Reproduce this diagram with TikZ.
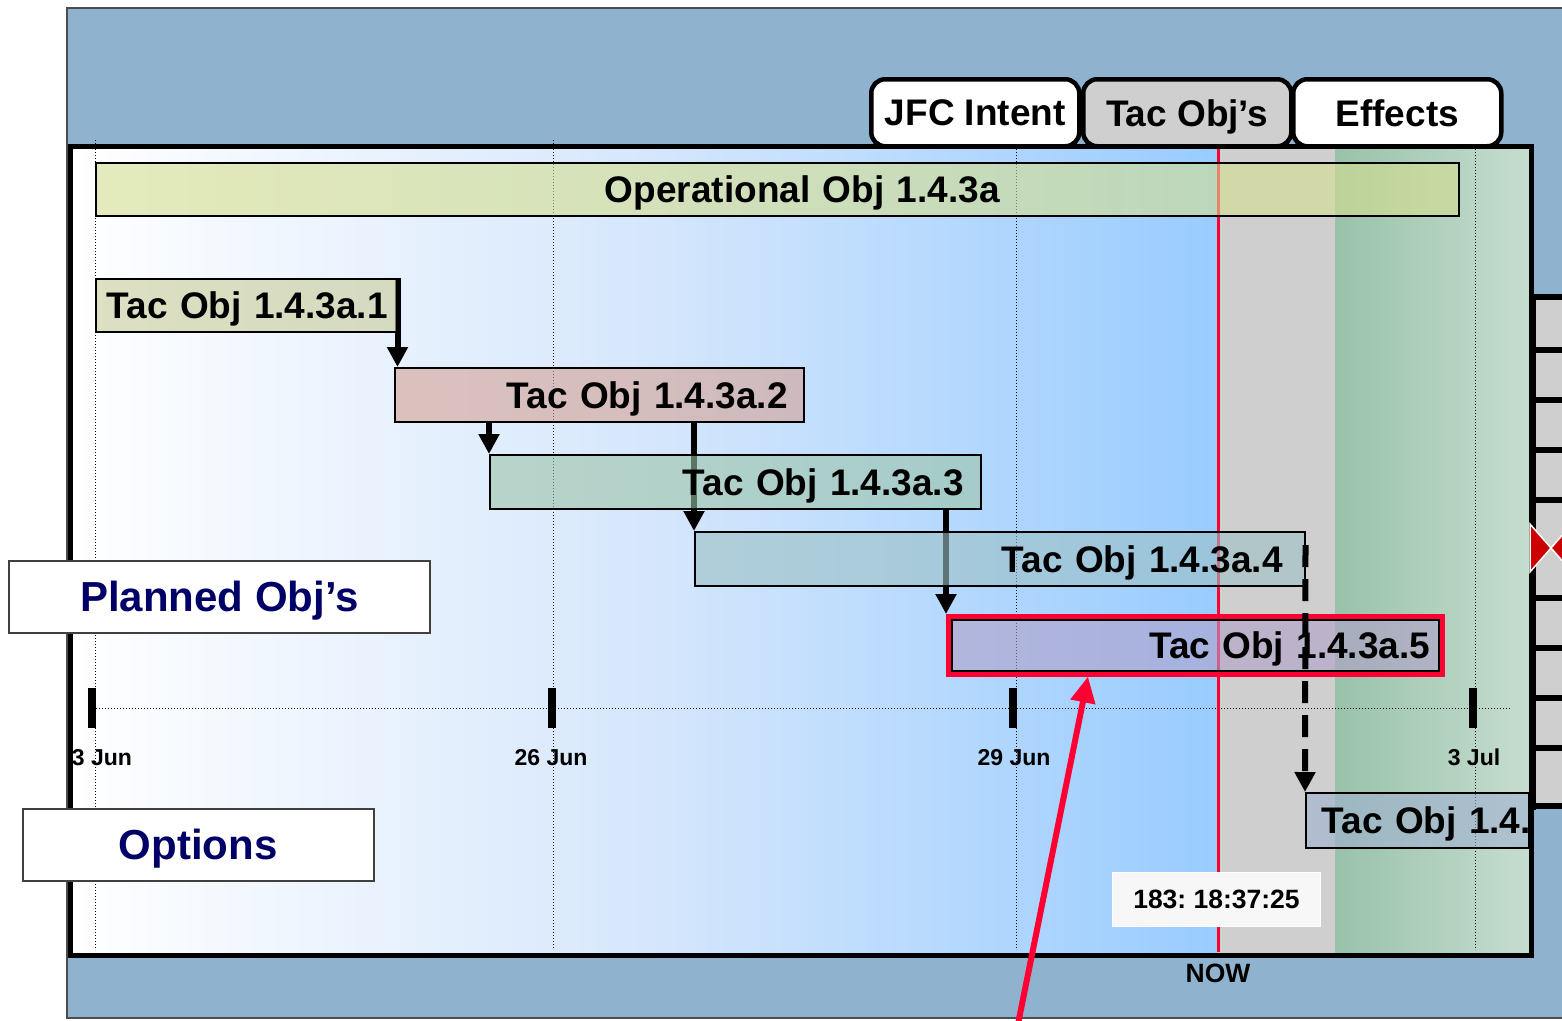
\documentclass[tikz,border=0pt]{standalone}
\usepackage{fontspec}
\setmainfont{Liberation Sans}
\usepackage{tikz}
\usetikzlibrary{arrows.meta,positioning}
\frenchspacing

\definecolor{frameblue}{HTML}{8FB3CF}
\definecolor{nowblue}{HTML}{99CCFF}
\definecolor{midblue}{HTML}{D6E7FC}
\definecolor{pastgrey}{HTML}{CFCFCF}
\definecolor{effgreen}{HTML}{99C2AA}
\definecolor{effpale}{HTML}{C6DDD0}
\definecolor{opfill}{HTML}{D4DE8E}
\definecolor{tac1fill}{HTML}{C8CC99}
\definecolor{tac2fill}{HTML}{D4A294}
\definecolor{tac3fill}{HTML}{9CC4A8}
\definecolor{tac4fill}{HTML}{9CC0C4}
\definecolor{tac5fill}{HTML}{B0A0C8}
\definecolor{tac6fill}{HTML}{A0B0D0}
\definecolor{alertred}{HTML}{FF0033}
\definecolor{bowred}{HTML}{CC0000}
\definecolor{navy}{HTML}{000066}
\definecolor{clockgrey}{HTML}{F7F7F7}

\newcommand{\barfont}{\bfseries\fontsize{37}{40}\selectfont}
\newcommand{\sidefont}{\bfseries\fontsize{42}{46}\selectfont}
\newcommand{\datefont}{\bfseries\fontsize{23}{26}\selectfont}
\newcommand{\clockfont}{\bfseries\fontsize{26.5}{30}\selectfont}

\pgfdeclarelayer{bg}
\pgfdeclarelayer{links}
\pgfsetlayers{bg,links,main}

\tikzset{
    tac-box/.style = {draw=black, line width=1.5pt, rectangle, fill opacity=.6, text opacity=1, font=\barfont, inner ysep=0pt, minimum height=54pt, text depth=0pt, anchor=north west},
    tab-box/.style = {draw=black, line width=4.5pt, rounded corners=14pt, minimum width=208pt, minimum height=67pt, inner sep=0pt, font=\barfont, text depth=0pt, anchor=north west},
    side-box/.style = {draw=black!75, line width=1.5pt, fill=white, text=navy, font=\sidefont, inner sep=0pt, text depth=0pt, anchor=north west},
    link/.style = {line width=6pt, -{Triangle[length=20pt,width=20pt]}},
    grid-line/.style = {line width=1pt, dash pattern=on 1pt off 2pt},
    date-label/.style = {font=\datefont, inner sep=0pt, text depth=0pt},
}

\begin{document}
\begin{tikzpicture}[x=1pt, y=-1pt]
\useasboundingbox (0,0) rectangle (1562,1020);

% frame and time bands
\begin{pgfonlayer}{bg}
\draw[fill=frameblue, draw=black!70, line width=1.5pt] (67,8) rectangle (1575,1018);
\shade[left color=white, right color=nowblue, middle color=midblue] (70,146) rectangle (1218,955);
\fill[pastgrey] (1218,146) rectangle (1335,955);
\shade[left color=effgreen, right color=effpale] (1335,146) rectangle (1531,955);
\end{pgfonlayer}

\node[tab-box, fill=white] (jfc) at (869,77) {JFC Intent};
\node[tab-box, fill=pastgrey] (tacs) at (1081,77) {Tac Obj’s};
\node[tab-box, fill=white] (effects) at (1291,77) {Effects};
\draw[line width=5pt] (70,146) rectangle (1531,955);

\node[tac-box, fill=opfill, text width=1363pt, inner xsep=0pt, minimum height=53pt, align=center] (op) at (95,162) {\hspace*{50pt}Operational Obj 1.4.3a};
\node[tac-box, fill=tac1fill, text width=279pt, inner xsep=11pt, minimum height=53pt, align=left] (a1) at (95,278) {\mbox{Tac Obj 1.4.3a.1}};
\node[tac-box, fill=tac2fill, text width=377pt, inner xsep=16pt, align=right] (a2) at (394,367) {Tac Obj 1.4.3a.2};
\node[tac-box, fill=tac3fill, text width=457pt, inner xsep=17pt, align=right] (a3) at (489,454) {Tac Obj 1.4.3a.3};
\node[tac-box, fill=tac4fill, text width=566pt, inner xsep=22pt, align=right] (a4) at (694,531) {Tac Obj 1.4.3a.4};
\node[tac-box, draw=alertred, line width=4.5pt, fill=tac5fill, text width=470pt, inner xsep=12pt, minimum height=58pt, align=right] (a5) at (946,614) {Tac Obj 1.4.3a.5};
\draw[line width=2pt] ([shift={(5.5pt,-5.5pt)}]a5.north west) rectangle ([shift={(-5.5pt,5.5pt)}]a5.south east);
\node[tac-box, fill=tac6fill, text width=191pt, inner xsep=16pt, minimum height=55pt, align=left] (a6) at (1305,792) {\mbox{Tac Obj 1.4.}};

\node[side-box, minimum width=421pt, minimum height=72pt] (planned) at (8,560) {Planned Obj’s};
\node[side-box, minimum width=351pt, minimum height=72pt] (options) at (22,808) {Options};

\node[fill=clockgrey, draw=white, line width=1pt, minimum width=208pt, minimum height=54pt, font=\clockfont, text depth=0pt, anchor=north west] (clock) at (1112,872) {183: 18:37:25};
\node[font=\clockfont, text depth=0pt] (now) at (1218,973) {NOW};

% time axis
\foreach \x/\lx/\d [count=\i] in {92/102/3 Jun, 552/551/26 Jun, 1013/1014/29 Jun, 1473/1474/3 Jul} {
    \draw[line width=8pt] (\x,688) -- (\x,728);
    \node[date-label] (date\i) at (\lx,757) {\d};
}

% side strip
\fill[pastgrey] (1533,296) rectangle (1570,808);
\foreach \y in {297,350,400,450,500,598,648,698,748,806}
    \draw[line width=6pt] (1531,\y) -- (1570,\y);
\draw[line width=6pt] (1533,294) -- (1533,810);
\filldraw[fill=bowred, draw=white, line width=1.5pt] (1530,524) -- (1551,548) -- (1530,572) -- cycle;
\filldraw[fill=bowred, draw=white, line width=1.5pt] (1572,524) -- (1551,548) -- (1572,572) -- cycle;

\begin{pgfonlayer}{links}
\foreach \x in {95,553,1016,1475}
    \draw[grid-line] (\x,140) -- (\x,950);
\draw[grid-line] (90,708) -- (1510,708);
\draw[alertred, line width=3pt] (1218,148) -- (1218,952);
\draw[link] (a1.north east) -- (a1.north east |- a2.north);
\draw[link] (a3.north west |- a2.south) -- (a3.north west);
\draw[link] (a4.north west |- a2.south) -- (a4.north west);
\draw[link] (a5.north west |- a3.south) -- (a5.north west);
\end{pgfonlayer}

\draw[link, dash pattern=on 22pt off 12pt] ([yshift=-14pt]a4.north east) -- (a6.north west);

\coordinate (pointer) at (1018,1024);
\draw[alertred, line width=6pt, -{Triangle[length=26pt,width=24pt]}] (pointer) -- ([xshift=142pt]a5.south west);
\end{tikzpicture}
\end{document}
